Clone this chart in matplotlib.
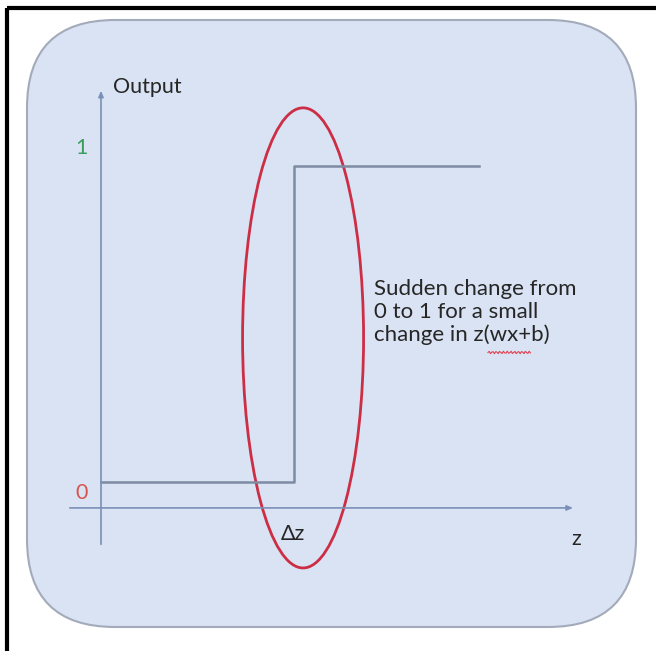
import numpy as np
import matplotlib
matplotlib.use("Agg")
import matplotlib.pyplot as plt
from matplotlib.patches import FancyBboxPatch, Ellipse

plt.rcParams["font.family"] = ["Lato", "DejaVu Sans"]

# step function: z values and output
step_z = [-1.0, 0.0, 0.0, 0.96]
step_out = [0.0, 0.0, 1.0, 1.0]
level_labels = ["0", "1"]
level_values = [0.0, 1.0]
level_colors = ["#d9534f", "#3a9d5d"]
note = "Sudden change from\n0 to 1 for a small\nchange in z(wx+b)"

W, H = 656, 651
FS = 15.5
fig = plt.figure(figsize=(W / 100, H / 100), dpi=100)

# background layer in pixel coords
bg = fig.add_axes([0, 0, 1, 1])
bg.set_xlim(0, W); bg.set_ylim(H, 0); bg.axis("off")
bg.plot([7, W], [8, 8], color="black", lw=3, solid_capstyle="butt")
bg.plot([7, 7], [8, H], color="black", lw=3, solid_capstyle="butt")
box = FancyBboxPatch((27, 20), 609, 607, boxstyle="round,pad=0,rounding_size=88",
                     fc="#dae3f3", ec="#a3abba", lw=1.5)
bg.add_patch(box)

# data layer: z=0 at x=294 px, 193 px per unit; output 0 at y=482 px, 316 px per unit
ax = fig.add_axes([0, 0, 1, 1])
ax.set_xlim(-294 / 193, (W - 294) / 193)
ax.set_ylim((482 - H) / 316, 482 / 316)
ax.axis("off")
ax.patch.set_alpha(0)

axcol = "#7a90b8"
# axes arrows
ax.annotate("", xy=(-1.0, 1.247), xytext=(-1.0, -0.206),
            arrowprops=dict(arrowstyle="-|>,head_length=0.35,head_width=0.15", color=axcol, lw=1.2))
ax.annotate("", xy=(1.46, -0.082), xytext=(-1.176, -0.082),
            arrowprops=dict(arrowstyle="-|>,head_length=0.35,head_width=0.15", color=axcol, lw=1.2))

ax.plot(step_z, step_out, color="#7d8ba3", lw=1.8)

ax.add_patch(Ellipse((0.047, 0.456), 0.627, 1.456, fill=False, ec="#cc2e45", lw=2.0))

txtcol = "#262626"
ax.text(-0.94, 1.25, "Output", fontsize=FS, color=txtcol, ha="left", va="center")
ax.text(1.46, -0.18, "z", fontsize=FS, color=txtcol, ha="center", va="center")
ax.text(-0.005, -0.165, "Δz", fontsize=FS, color=txtcol, ha="center", va="center")
for lab, v, c in zip(level_labels, level_values, level_colors):
    off = -0.035 if v == 0 else 0.056
    ax.text(-1.1, v + off, lab, fontsize=FS, color=c, ha="center", va="center")

ax.text(0.415, 0.538, note, fontsize=16, color=txtcol, ha="left", va="center",
        linespacing=1.17)
# spell-check squiggle under "wx+b"
sq_x = np.linspace(1.005, 1.225, 34)
sq_y = 0.41 + 0.004 * np.sin(np.arange(34) * 2.2)
ax.plot(sq_x, sq_y, color="#e04050", lw=0.8)

fig.savefig("out.png", dpi=100)
